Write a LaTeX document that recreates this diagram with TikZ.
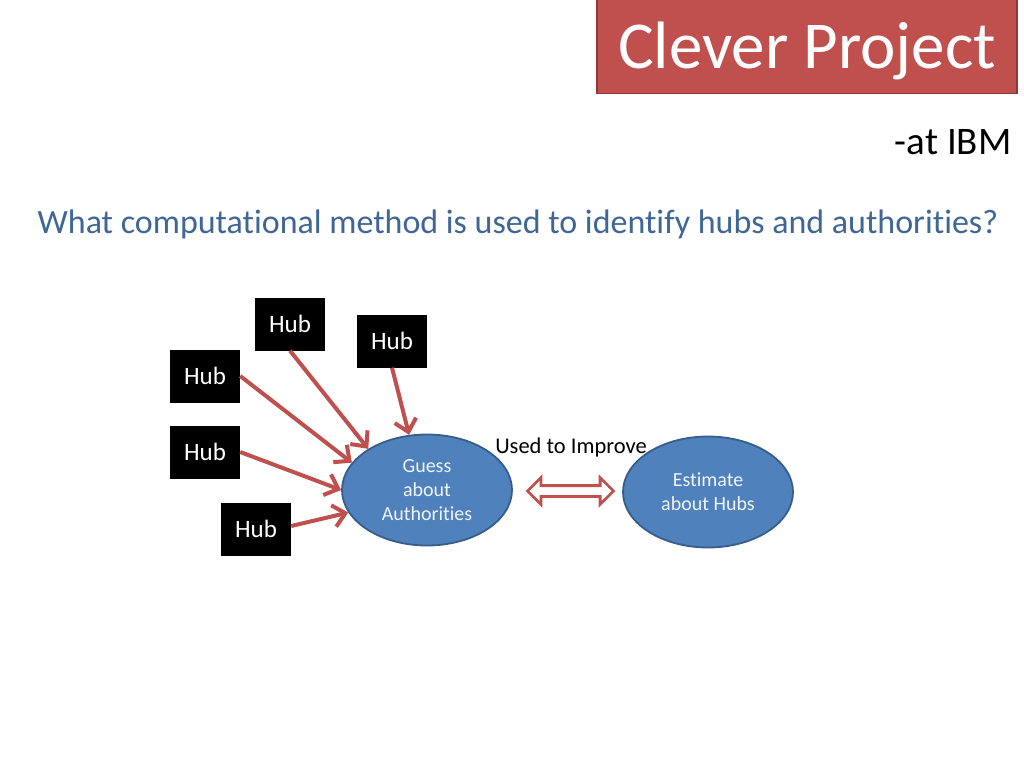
\documentclass[tikz,border=0pt]{standalone}
\usepackage{fontspec}
\setmainfont{Carlito}[Ligatures=NoCommon]
\usetikzlibrary{shapes,shapes.arrows,arrows.meta,positioning,calc}
\usepackage{xcolor}

\definecolor{officered}{HTML}{C0504D}
\definecolor{officereddark}{HTML}{8C3836}
\definecolor{officeblue}{HTML}{4F81BD}
\definecolor{officebluedark}{HTML}{385D8A}
\definecolor{questionblue}{HTML}{3E6696}

\tikzset{
    hubbox/.style={fill=black, text=white, minimum width=70pt, minimum height=53pt,
        inner sep=0pt, font=\fontsize{25}{30}\selectfont},
    ideanode/.style={ellipse, fill=officeblue, draw=officebluedark, line width=1.8pt,
        minimum width=170pt, minimum height=111pt, inner sep=0pt, align=center,
        text=white!92!officeblue, font=\fontsize{20}{24}\selectfont},
    hubarrow/.style={draw=officered, line width=4pt,
        -{Straight Barb[length=12pt,width=22pt,line width=4pt]}}
}

\begin{document}
\begin{tikzpicture}[x=1pt, y=-1pt]
    % Page size
    \useasboundingbox (0,0) rectangle (1024,768);

    % Title bar
    \node[fill=officered, draw=officereddark, line width=1.8pt, minimum width=420pt,
        minimum height=95pt, inner sep=0pt, text=white, text height=57pt,
        font=\fontsize{67}{72}\selectfont] (title) at (807,46) {Clever Project};
    \node[anchor=base east, font=\fontsize{39}{44}\selectfont] (ibm) at (1015,154) {-at IBM};

    % Question
    \node[anchor=base, text=questionblue, font=\fontsize{34}{38}\selectfont] (question)
        at (518,233) {What computational method is used to identify hubs and authorities?};

    % Hubs
    \node[hubbox] (hubA) at (290,324) {Hub};
    \node[hubbox] (hubB) at (392,341) {Hub};
    \node[hubbox] (hubC) at (205,376) {Hub};
    \node[hubbox] (hubD) at (205,452) {Hub};
    \node[hubbox] (hubE) at (256,529) {Hub};

    % Guess and estimate
    \node[ideanode] (guess) at (427,490) {Guess\\about\\Authorities};
    \node[ideanode] (estimate) at (708,492) {Estimate\\about Hubs};

    % Hub arrows
    \draw[hubarrow] (hubA.south) -- (guess.145);
    \draw[hubarrow] (hubB.south) -- (guess.108);
    \draw[hubarrow] (hubC.east) -- (guess.160);
    \draw[hubarrow] (hubD.east) -- (guess.180);
    \draw[hubarrow] ($(hubE.east)+(0,-3)$) -- (guess.196);

    % Double arrow between the two
    \node[double arrow, draw=officered, fill=white, line width=2.8pt, inner sep=4pt,
        double arrow head extend=8pt, minimum height=86pt] (swap)
        at ($(guess.east)!0.5!(estimate.west)+(3,0)$) {};
    \node[anchor=base, font=\fontsize{22.5}{26}\selectfont] (improve) at (571,453) {Used to Improve};
\end{tikzpicture}
\end{document}
